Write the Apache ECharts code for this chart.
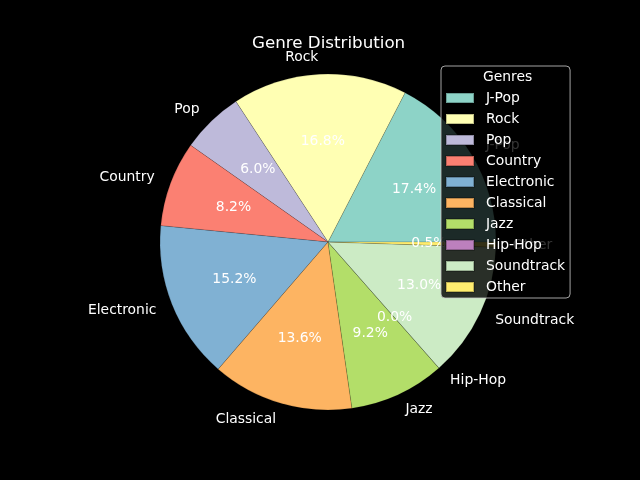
<!DOCTYPE html>
<html>
<head>
<meta charset="utf-8">
<script src="https://cdn.jsdelivr.net/npm/echarts@6/dist/echarts.min.js"></script>
<style>
html,body{margin:0;padding:0;background:#000;}
#c{width:640px;height:480px;}
</style>
</head>
<body>
<div id="c"></div>
<script>
const genres = ['J-Pop','Rock','Pop','Country','Electronic','Classical','Jazz','Hip-Hop','Soundtrack','Other'];
const shares = [17.4, 16.8, 6.0, 8.2, 15.2, 13.6, 9.2, 0.0, 13.0, 0.5];
const colors = ['#8dd3c7','#ffffb3','#bebada','#fb8072','#80b1d3','#fdb462','#b3de69','#bc80bd','#ccebc5','#ffed6f'];

const FONT = 'DejaVu Sans';
const R = 168;
const CENTER = [328, 242];

const chart = echarts.init(document.getElementById('c'), null, {renderer: 'canvas'});

const mainData = genres.map((g, i) => ({name: g, value: shares[i], itemStyle: {color: colors[i]}}));
const pctData = genres.map((g, i) => ({name: g, value: shares[i]}));

chart.setOption({
  backgroundColor: '#000',
  animation: false,
  title: [{
    text: 'Genre Distribution',
    left: 252, top: 35,
    padding: 0,
    textStyle: {color: '#fff', fontFamily: FONT, fontSize: 16.7, fontWeight: 'normal'}
  }, {
    text: 'Genres',
    left: 483, top: 70,
    padding: 0,
    z: 10,
    textStyle: {color: '#fff', fontFamily: FONT, fontSize: 13.9, fontWeight: 'normal'}
  }],
  legend: {
    data: genres,
    orient: 'vertical',
    left: 441, top: 66,
    padding: [25, 5, 4, 4],
    itemWidth: 28, itemHeight: 10, itemGap: 7,
    icon: 'rect',
    selectedMode: false,
    backgroundColor: 'rgba(0,0,0,0.8)',
    borderColor: 'rgba(204,204,204,0.8)',
    borderWidth: 1,
    borderRadius: 4,
    textStyle: {color: '#fff', fontFamily: FONT, fontSize: 13.9, lineHeight: 14, padding: [0, 0, 0, 7]}
  },
  series: [{
    type: 'pie',
    center: CENTER,
    radius: [0, R],
    startAngle: 0,
    clockwise: false,
    avoidLabelOverlap: false,
    silent: true,
    data: mainData,
    itemStyle: {borderColor: 'rgba(0,0,0,0.25)', borderWidth: 0.5},
    label: {
      show: true, position: 'outside', color: '#fff',
      fontFamily: FONT, fontSize: 13.9, distanceToLabelLine: 0,
      padding: [3, 0, 0, 0],
      formatter: p => p.name
    },
    labelLine: {show: false, length: R * 0.1, length2: 0},
    emphasis: {disabled: true}
  }, {
    type: 'pie',
    center: CENTER,
    radius: [R * 0.2 - 6, R],
    startAngle: 0,
    clockwise: false,
    avoidLabelOverlap: false,
    silent: true,
    data: pctData,
    itemStyle: {color: 'rgba(0,0,0,0)'},
    label: {
      show: true, position: 'inside', color: '#fff',
      fontFamily: FONT, fontSize: 13.9,
      padding: [1, 0, 0, 0],
      formatter: p => p.value.toFixed(1) + '%'
    },
    labelLine: {show: false},
    emphasis: {disabled: true}
  }]
});
</script>
</body>
</html>
